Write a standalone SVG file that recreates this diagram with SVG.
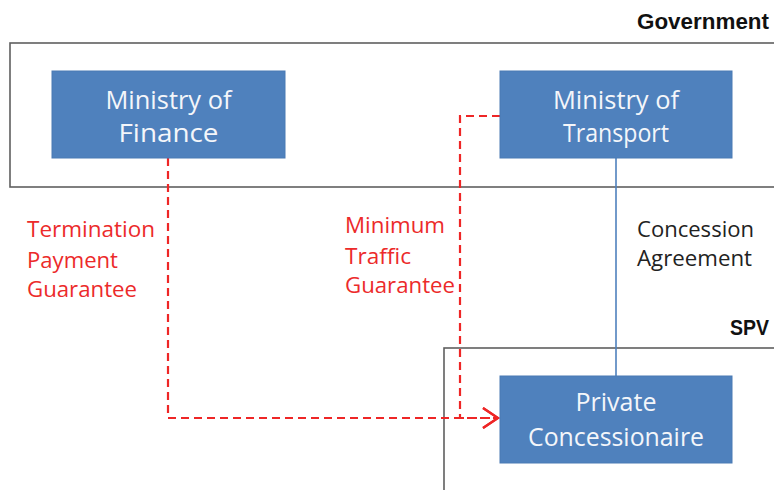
<svg xmlns="http://www.w3.org/2000/svg" width="774" height="490" viewBox="0 0 774 490">
<defs>
<style>
.frame{fill:none;stroke:#5f5f5f;stroke-width:1.6}
.box{fill:#4f81bd;stroke:#4a7ab4;stroke-width:1}
.bt{font-family:"Open Sans","Liberation Sans",sans-serif;font-size:26px;fill:#f4f6fa;text-anchor:middle}
.red{font-family:"Open Sans","Liberation Sans",sans-serif;font-size:21px;fill:#ec2a2a}
.blk{font-family:"Open Sans","Liberation Sans",sans-serif;font-size:21px;fill:#222}
.ttl{font-family:"Liberation Sans",sans-serif;font-weight:bold;font-size:22px;fill:#111}
.dash{fill:none;stroke:#ee2626;stroke-width:2.2;stroke-dasharray:8 5}
.sol{fill:none;stroke:#4f81bd;stroke-width:1.6}
</style>
<marker id="arr" markerWidth="20" markerHeight="24" refX="17" refY="12" orient="auto" markerUnits="userSpaceOnUse">
<path d="M2,2 L17,12 L2,22" fill="none" stroke="#ee2626" stroke-width="2.2"/>
</marker>
</defs>
<rect width="774" height="490" fill="#fff"/>
<g id="government">
<rect class="frame" x="10" y="43" width="780" height="144"/>
<text class="ttl" x="637" y="29" textLength="132" lengthAdjust="spacingAndGlyphs">Government</text>
</g>
<g id="spv">
<rect class="frame" x="444" y="348" width="360" height="160"/>
<text class="ttl" x="730" y="335" textLength="39" lengthAdjust="spacingAndGlyphs">SPV</text>
</g>
<g id="connectors">
<path class="sol" d="M616,158 V376"/>
<path class="dash" d="M168,158 V418 H498" marker-end="url(#arr)"/>
<path class="dash" d="M500,116 H460 V418 H498" marker-end="url(#arr)"/>
</g>
<g id="ministry-finance">
<rect class="box" x="52" y="71" width="233" height="87"/>
<text class="bt" x="168.5" y="109" textLength="126" lengthAdjust="spacingAndGlyphs">Ministry of</text>
<text class="bt" x="168.5" y="142" textLength="100" lengthAdjust="spacingAndGlyphs">Finance</text>
</g>
<g id="ministry-transport">
<rect class="box" x="500" y="71" width="232" height="87"/>
<text class="bt" x="616" y="109" textLength="126" lengthAdjust="spacingAndGlyphs">Ministry of</text>
<text class="bt" x="616" y="142" textLength="106" lengthAdjust="spacingAndGlyphs">Transport</text>
</g>
<g id="private-concessionaire">
<rect class="box" x="500" y="376" width="232" height="87"/>
<text class="bt" x="616" y="411" textLength="81" lengthAdjust="spacingAndGlyphs">Private</text>
<text class="bt" x="616" y="446" textLength="176" lengthAdjust="spacingAndGlyphs">Concessionaire</text>
</g>
<g id="label-termination">
<text class="red" x="27" y="237" textLength="128" lengthAdjust="spacingAndGlyphs">Termination</text>
<text class="red" x="27" y="268" textLength="91" lengthAdjust="spacingAndGlyphs">Payment</text>
<text class="red" x="27" y="297" textLength="110" lengthAdjust="spacingAndGlyphs">Guarantee</text>
</g>
<g id="label-minimum">
<text class="red" x="345" y="233" textLength="100" lengthAdjust="spacingAndGlyphs">Minimum</text>
<text class="red" x="345" y="264" textLength="66" lengthAdjust="spacingAndGlyphs">Traffic</text>
<text class="red" x="345" y="293" textLength="110" lengthAdjust="spacingAndGlyphs">Guarantee</text>
</g>
<g id="label-concession">
<text class="blk" x="637" y="237" textLength="117" lengthAdjust="spacingAndGlyphs">Concession</text>
<text class="blk" x="637" y="266" textLength="115" lengthAdjust="spacingAndGlyphs">Agreement</text>
</g>
</svg>
